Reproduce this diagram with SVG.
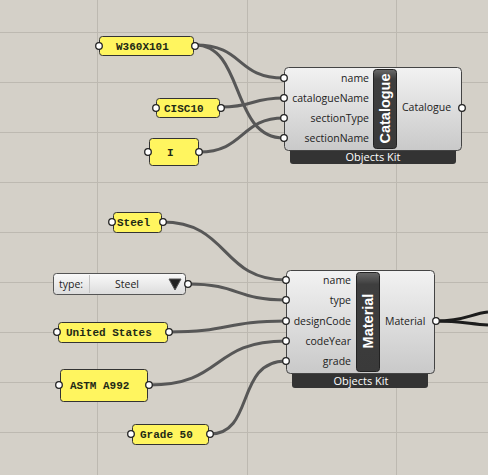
<svg xmlns="http://www.w3.org/2000/svg" width="488" height="475" viewBox="0 0 488 475">
<defs>
<linearGradient id="body" x1="0" y1="0" x2="0" y2="1"><stop offset="0" stop-color="#f2f2f2"/><stop offset="1" stop-color="#c9c9c9"/></linearGradient>
<linearGradient id="bar" x1="0" y1="0" x2="0" y2="1"><stop offset="0" stop-color="#6a6a6a"/><stop offset="0.12" stop-color="#3e3e3e"/><stop offset="1" stop-color="#3a3a3a"/></linearGradient>
<linearGradient id="dd" x1="0" y1="0" x2="0" y2="1"><stop offset="0" stop-color="#fafafa"/><stop offset="1" stop-color="#dcdcdc"/></linearGradient>
<style>
.grid{stroke:#bdb9b1;stroke-width:1}
.wire{fill:none;stroke:#575757;stroke-width:3}
.wsel{fill:none;stroke:#1c1c1c;stroke-width:3}
.panel{fill:#fff55f;stroke:#333;stroke-width:1}
.ptxt{font-family:"Liberation Mono",monospace;font-size:11px;font-weight:bold;fill:#1e2a16}
.port{fill:#fff;stroke:#222;stroke-width:1.3}
.body{fill:url(#body);stroke:#444;stroke-width:1}
.cbar{fill:url(#bar);stroke:#222;stroke-width:1}
.lbl{font-family:"Open Sans","DejaVu Sans",sans-serif;font-size:10.5px;fill:#222}
.lblr{text-anchor:end}
.ttl{font-family:"Liberation Sans",sans-serif;font-size:14.5px;font-weight:bold;fill:#fff;text-anchor:middle}
.kit{fill:#333}
.kittxt{font-family:"Open Sans","DejaVu Sans",sans-serif;font-size:11px;fill:#fff;text-anchor:middle}
</style>
</defs>
<rect x="0" y="0" width="488" height="475" fill="#d4d0c8"/>
<g id="grid">
<line class="grid" x1="97.5" y1="0" x2="97.5" y2="475"/>
<line class="grid" x1="247.5" y1="0" x2="247.5" y2="475"/>
<line class="grid" x1="396.5" y1="0" x2="396.5" y2="475"/>
<line class="grid" x1="0" y1="32.5" x2="488" y2="32.5"/>
<line class="grid" x1="0" y1="82.5" x2="488" y2="82.5"/>
<line class="grid" x1="0" y1="132.5" x2="488" y2="132.5"/>
<line class="grid" x1="0" y1="182.5" x2="488" y2="182.5"/>
<line class="grid" x1="0" y1="232.5" x2="488" y2="232.5"/>
<line class="grid" x1="0" y1="282.5" x2="488" y2="282.5"/>
<line class="grid" x1="0" y1="332.5" x2="488" y2="332.5"/>
<line class="grid" x1="0" y1="382.5" x2="488" y2="382.5"/>
<line class="grid" x1="0" y1="432.5" x2="488" y2="432.5"/>
</g>
<g id="connectors">
<path class="wire" d="M195,45 C245,45 235,78 284,78"/>
<path class="wire" d="M195,45 C245,45 230,138 284,138"/>
<path class="wire" d="M221,107 C255,107 250,98 284,98"/>
<path class="wire" d="M199,152 C245,152 240,118 284,118"/>
<path class="wire" d="M162,222 C230,222 220,280 286,280"/>
<path class="wire" d="M188,284 C240,284 235,300 286,300"/>
<path class="wire" d="M169,332 C230,332 225,321 286,321"/>
<path class="wire" d="M149,385 C225,385 210,341 286,341"/>
<path class="wire" d="M210,434 C255,434 235,361 286,361"/>
<path class="wsel" d="M436,321 C465,321 470,314 488,312"/>
<path class="wsel" d="M436,321 C460,321 470,324 488,325"/>
</g>
<g id="panel-w360">
<rect class="panel" x="99.5" y="36.5" width="94" height="19" rx="3"/>
<text class="ptxt" x="116" y="49.5">W360X101</text>
<circle class="port" cx="99" cy="46" r="3.3"/><circle class="port" cx="195" cy="46" r="3.3"/>
</g>
<g id="panel-cisc">
<rect class="panel" x="156.5" y="98.5" width="63" height="19" rx="3"/>
<text class="ptxt" x="164" y="111.5">CISC10</text>
<circle class="port" cx="156" cy="108" r="3.3"/><circle class="port" cx="221" cy="108" r="3.3"/>
</g>
<g id="panel-i">
<rect class="panel" x="149.5" y="138.5" width="49" height="27" rx="3"/>
<text class="ptxt" x="167" y="156">I</text>
<circle class="port" cx="148" cy="152" r="3.3"/><circle class="port" cx="199" cy="152" r="3.3"/>
</g>
<g id="catalogue">
<rect class="kit" x="290" y="140" width="166" height="24" rx="3"/>
<text class="kittxt" x="373" y="160.5">Objects Kit</text>
<rect class="body" x="284.5" y="67.5" width="177" height="83" rx="4"/>
<rect class="cbar" x="373.5" y="69.5" width="23" height="79" rx="3"/>
<text class="ttl" transform="translate(390,108.5) rotate(-90)">Catalogue</text>
<text class="lbl lblr" x="369" y="81.5">name</text>
<text class="lbl lblr" x="369" y="101.5">catalogueName</text>
<text class="lbl lblr" x="369" y="121.5">sectionType</text>
<text class="lbl lblr" x="369" y="141.5">sectionName</text>
<text class="lbl" x="402" y="111">Catalogue</text>
<circle class="port" cx="284" cy="78" r="3.3"/><circle class="port" cx="284" cy="98" r="3.3"/>
<circle class="port" cx="284" cy="118" r="3.3"/><circle class="port" cx="284" cy="138" r="3.3"/>
<circle class="port" cx="462" cy="108" r="3.3"/>
</g>
<g id="panel-steel">
<rect class="panel" x="113.5" y="212.5" width="48" height="20" rx="3"/>
<text class="ptxt" x="117" y="226">Steel</text>
<circle class="port" cx="112" cy="222" r="3.3"/><circle class="port" cx="163" cy="222" r="3.3"/>
</g>
<g id="dropdown-type">
<rect x="53.5" y="273.5" width="132" height="21" rx="3" fill="url(#dd)" stroke="#555"/>
<line x1="89.5" y1="275" x2="89.5" y2="293" stroke="#c4c4c4"/>
<text class="lbl" x="59" y="288" font-size="11">type:</text>
<text class="lbl" x="127" y="288" font-size="11" text-anchor="middle">Steel</text>
<polygon points="169,279 181,279 175,290" fill="#222" stroke="#555" stroke-width="1"/>
<circle class="port" cx="188" cy="284" r="3.3"/>
</g>
<g id="panel-us">
<rect class="panel" x="58.5" y="322.5" width="109" height="20" rx="3"/>
<text class="ptxt" x="66" y="336">United States</text>
<circle class="port" cx="57" cy="332" r="3.3"/><circle class="port" cx="169" cy="332" r="3.3"/>
</g>
<g id="panel-astm">
<rect class="panel" x="60.5" y="369.5" width="87" height="32" rx="3"/>
<text class="ptxt" x="70" y="389">ASTM A992</text>
<circle class="port" cx="59" cy="385" r="3.3"/><circle class="port" cx="149" cy="385" r="3.3"/>
</g>
<g id="panel-grade">
<rect class="panel" x="132.5" y="424.5" width="76" height="20" rx="3"/>
<text class="ptxt" x="140" y="438">Grade 50</text>
<circle class="port" cx="131" cy="434" r="3.3"/><circle class="port" cx="210" cy="434" r="3.3"/>
</g>
<g id="material">
<rect class="kit" x="292" y="364" width="136" height="24" rx="3"/>
<text class="kittxt" x="361" y="384.5">Objects Kit</text>
<rect class="body" x="286.5" y="270.5" width="148" height="103" rx="4"/>
<rect class="cbar" x="356.5" y="272.5" width="23" height="99" rx="3"/>
<text class="ttl" transform="translate(373,321) rotate(-90)">Material</text>
<text class="lbl lblr" x="351" y="283.5">name</text>
<text class="lbl lblr" x="351" y="303.5">type</text>
<text class="lbl lblr" x="351" y="324.5">designCode</text>
<text class="lbl lblr" x="351" y="344.5">codeYear</text>
<text class="lbl lblr" x="351" y="364.5">grade</text>
<text class="lbl" x="385" y="324.5">Material</text>
<circle class="port" cx="286" cy="280" r="3.3"/><circle class="port" cx="286" cy="300" r="3.3"/>
<circle class="port" cx="286" cy="321" r="3.3"/><circle class="port" cx="286" cy="341" r="3.3"/>
<circle class="port" cx="286" cy="361" r="3.3"/>
<circle class="port" cx="436" cy="321" r="3.3"/>
</g>
</svg>
